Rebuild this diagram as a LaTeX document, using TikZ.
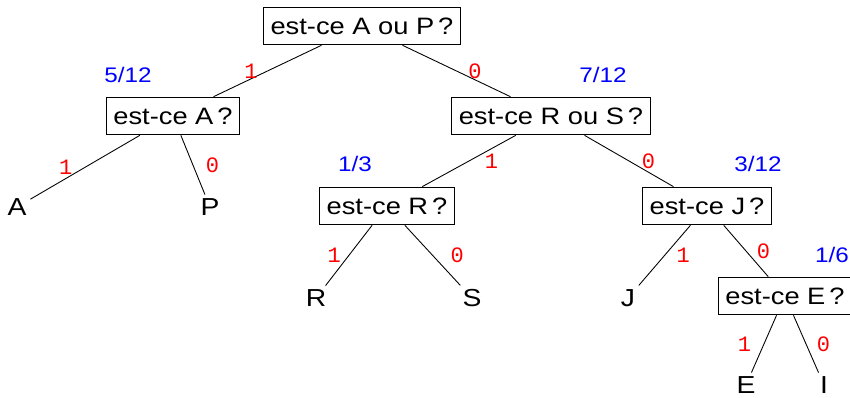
\documentclass[tikz,border=0pt]{standalone}
\usepackage{fontspec}
\setmainfont[FakeStretch=1.15]{Liberation Sans}
\newfontfamily\bitfont{Liberation Mono}
\begin{document}
\begin{tikzpicture}[x=0.02cm, y=-0.02cm, line width=0.5pt,
    question/.style={draw, inner xsep=4pt, minimum height=21.5pt, font=\fontsize{13.5}{15}\selectfont},
    leaf/.style={inner sep=2pt, font=\fontsize{14}{16}\selectfont},
    bit/.style={text=red, inner sep=0pt, font=\bitfont\fontsize{12.5}{14}\selectfont},
    prob/.style={text=blue, inner sep=1pt, font=\fontsize{12}{14}\selectfont}]
    \useasboundingbox (0,0) rectangle (850,398);

    % questions
    \node[question] (qAP) at (362,26) {est-ce A ou P\,?};
    \node[question] (qA) at (173,116) {est-ce A\,?};
    \node[question] (qRS) at (551,116) {est-ce R ou S\,?};
    \node[question] (qR) at (387,206) {est-ce R\,?};
    \node[question] (qJ) at (707,206) {est-ce J\,?};
    \node[question] (qE) at (785,296) {est-ce E\,?};

    % letters
    \node[leaf] (lA) at (17,207) {A};
    \node[leaf] (lP) at (210,207) {P};
    \node[leaf] (lR) at (316,298) {R};
    \node[leaf] (lS) at (472,298) {S};
    \node[leaf] (lJ) at (628,298) {J};
    \node[leaf] (lE) at (746,385) {E};
    \node[leaf] (lI) at (824,385) {I};

    % probabilities
    \node[prob] (pA) at (128,75) {5/12};
    \node[prob] (pRS) at (603,75) {7/12};
    \node[prob] (pR) at (355,164) {1/3};
    \node[prob] (pJ) at (758,164) {3/12};
    \node[prob] (pE) at (832,255) {1/6};

    \draw (qAP) -- node[bit, left=0.19cm] {1} (qA);
    \draw (qAP) -- node[bit, right=0.23cm] {0} (qRS);
    \draw (qA) -- node[bit, left=0.25cm] {1} (lA);
    \draw (qA) -- node[bit, right=0.25cm] {0} (lP);
    \draw (qRS) -- node[bit, right=0.31cm] {1} (qR);
    \draw (qRS) -- node[bit, right=0.25cm] {0} (qJ);
    \draw (qR) -- node[bit, left=0.15cm] {1} (lR);
    \draw (qR) -- node[bit, right=0.35cm] {0} (lS);
    \draw (qJ) -- node[bit, right=0.23cm] {1} (lJ);
    \draw (qJ) -- node[bit, right=0.21cm] {0} (qE);
    \draw (qE) -- node[bit, left=0.25cm] {1} (lE);
    \draw (qE) -- node[bit, right=0.21cm] {0} (lI);
\end{tikzpicture}
\end{document}
